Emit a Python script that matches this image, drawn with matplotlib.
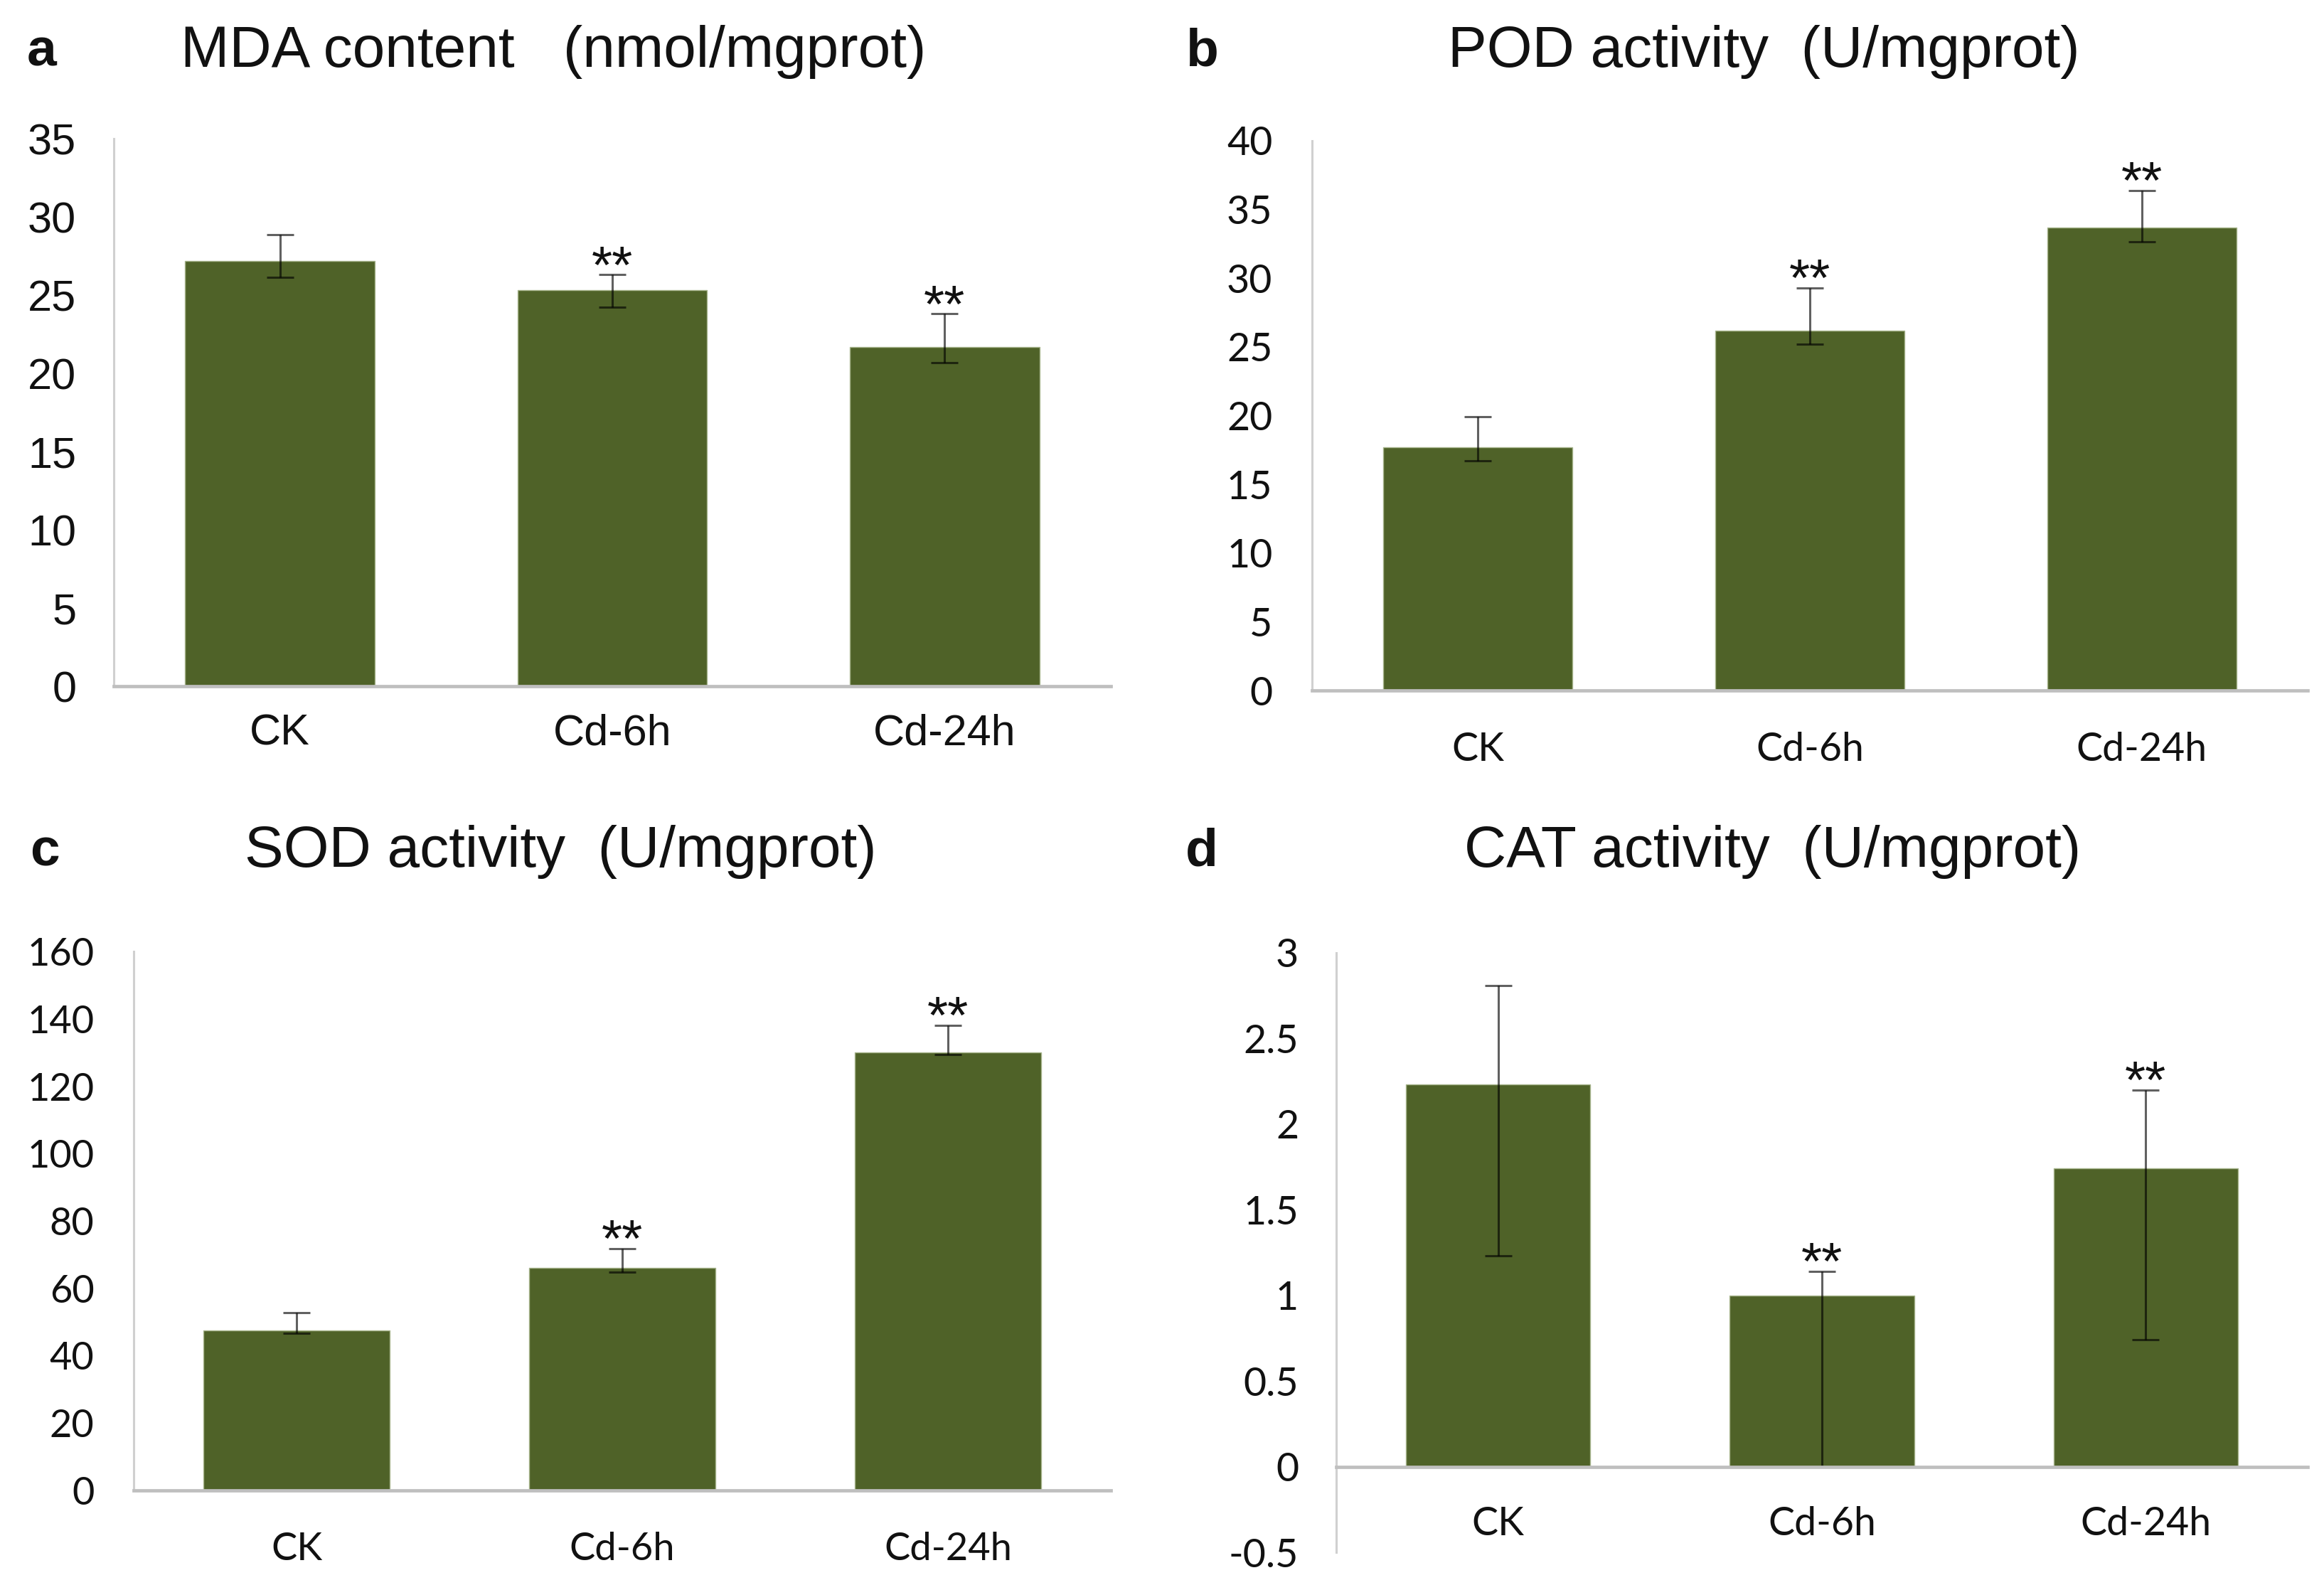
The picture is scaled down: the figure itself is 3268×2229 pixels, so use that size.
import matplotlib
matplotlib.use("Agg")
import matplotlib.pyplot as plt
import numpy as np

categories = ["CK", "Cd-6h", "Cd-24h"]

mda_vals = [27.2, 25.3, 21.7]
mda_err_lo = [1.05, 1.05, 1.0]
mda_err_hi = [1.65, 1.0, 2.1]
mda_sig = ["", "**", "**"]

pod_vals = [17.7, 26.2, 33.7]
pod_err_lo = [1.0, 1.0, 1.05]
pod_err_hi = [2.2, 3.1, 2.7]
pod_sig = ["", "**", "**"]

sod_vals = [47.5, 66.1, 130.0]
sod_err_lo = [0.8, 1.4, 0.7]
sod_err_hi = [5.2, 5.7, 8.1]
sod_sig = ["", "**", "**"]

cat_vals = [2.23, 1.0, 1.74]
cat_err_lo = [1.0, 1.0, 1.0]
cat_err_hi = [0.58, 0.14, 0.46]
cat_sig = ["", "**", "**"]

W, H = 3268, 2229
DPI = 200
fig = plt.figure(figsize=(W / DPI, H / DPI), dpi=DPI)

BAR = "#4F6228"
SPINE_L = "#D0D0D0"
SPINE_B = "#BFBFBF"

panels = [
    dict(letter="a", title="MDA content   (nmol/mgprot)", vals=mda_vals, lo=mda_err_lo, hi=mda_err_hi,
         sig=mda_sig, ylim=(0, 35), yticks=np.arange(0, 36, 5), rect=[160, 195, 1562, 965],
         tickfont="Liberation Sans", tick_fs=22, title_x=254, title_y=73,
         letter_xy=(38, 73), xpad=14, ypad=19),
    dict(letter="b", title="POD activity  (U/mgprot)", vals=pod_vals, lo=pod_err_lo, hi=pod_err_hi,
         sig=pod_sig, ylim=(0, 40), yticks=np.arange(0, 41, 5), rect=[1845, 198, 3245, 971],
         tickfont="Lato", tick_fs=20, title_x=2036, title_y=73,
         letter_xy=(1667, 73), xpad=21, ypad=20),
    dict(letter="c", title="SOD activity  (U/mgprot)", vals=sod_vals, lo=sod_err_lo, hi=sod_err_hi,
         sig=sod_sig, ylim=(0, 160), yticks=np.arange(0, 161, 20), rect=[188, 1338, 1562, 2096],
         tickfont="Lato", tick_fs=19.5, title_x=344, title_y=1198,
         letter_xy=(42, 1198), xpad=21, ypad=20),
    dict(letter="d", title="CAT activity  (U/mgprot)", vals=cat_vals, lo=cat_err_lo, hi=cat_err_hi,
         sig=cat_sig, ylim=(-0.5, 3), yticks=[-0.5, 0, 0.5, 1, 1.5, 2, 2.5, 3], rect=[1879, 1340, 3245, 2183],
         tickfont="Lato", tick_fs=20, title_x=2059, title_y=1198,
         letter_xy=(1667, 1198), xpad=20, ypad=19),
]

def fmt(v):
    if float(v).is_integer():
        return str(int(v))
    return ("%g" % v)

for p in panels:
    l, t, r, b = p["rect"]
    ax = fig.add_axes([l / W, 1 - b / H, (r - l) / W, (b - t) / H])
    for sname in ["top", "right"]:
        ax.spines[sname].set_visible(False)
    if p["ylim"][0] < 0:
        ax.spines["bottom"].set_position(("data", 0))
    ax.spines["left"].set_color(SPINE_L)
    ax.spines["left"].set_linewidth(1.1)
    ax.spines["bottom"].set_color(SPINE_B)
    ax.spines["bottom"].set_linewidth(1.7)
    ax.spines["bottom"].set_zorder(4)

    x = np.arange(len(categories))
    ax.bar(x, p["vals"], width=0.57, color=BAR, edgecolor="#A8B58E", linewidth=0.5, zorder=2)
    ax.errorbar(x, p["vals"], yerr=[p["lo"], p["hi"]], fmt="none", ecolor=(0, 0, 0, 0.62),
                elinewidth=1.1, capsize=7, capthick=1.1, zorder=3)
    for xi, v, hi, s in zip(x, p["vals"], p["hi"], p["sig"]):
        if s:
            ax.annotate(s, (xi, v + hi), xytext=(0, -4), textcoords="offset points",
                        ha="center", va="baseline", fontsize=27,
                        family="Liberation Sans", color="#111111")
    ax.set_xlim(-0.5, 2.5)
    ax.set_ylim(*p["ylim"])
    ax.set_yticks(p["yticks"])
    ax.set_yticklabels([fmt(v) for v in p["yticks"]], family=p["tickfont"], fontsize=p["tick_fs"])
    ax.set_xticks(x)
    ax.set_xticklabels(categories, family=p["tickfont"], fontsize=p["tick_fs"])
    ax.tick_params(axis="both", length=0, colors="#111111")
    ax.tick_params(axis="y", pad=p["ypad"])
    ax.tick_params(axis="x", pad=p["xpad"])
    ax.set_facecolor("none")

    fig.text(p["title_x"] / W, 1 - p["title_y"] / H, p["title"], family="Liberation Sans",
             fontsize=29.5, ha="left", va="center", color="#111111")
    fig.text(p["letter_xy"][0] / W, 1 - p["letter_xy"][1] / H, p["letter"], family="Liberation Sans",
             fontsize=27, fontweight="bold", ha="left", va="center", color="#111111")

fig.savefig("out.png", dpi=DPI, facecolor="white")
